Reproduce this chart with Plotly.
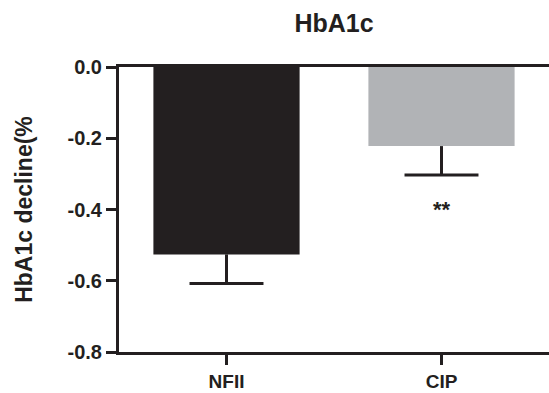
import plotly.graph_objects as go

categories = ["NFII", "CIP"]
means = [-0.526, -0.222]
errors_down = [0.082, 0.081]
bar_colors = ["#231f20", "#b1b3b6"]
y_tickvals = [0.0, -0.2, -0.4, -0.6, -0.8]
y_ticktext = ["0.0", "-0.2", "-0.4", "-0.6", "-0.8"]
sig_label = "**"
sig_category = "CIP"
sig_y = -0.399

INK = "#231f20"
FONT = "Liberation Sans, Arial, sans-serif"
CAP_HALF = 0.172  # cap half-width in category units

x_pos = list(range(len(categories)))

fig = go.Figure()
fig.add_trace(go.Bar(
    x=x_pos,
    y=means,
    width=0.68,
    marker=dict(color=bar_colors, line=dict(width=0)),
    error_y=dict(
        type="data",
        symmetric=False,
        array=[0] * len(means),
        arrayminus=errors_down,
        color=INK,
        thickness=3,
        width=0,
    ),
    showlegend=False,
    hoverinfo="skip",
))

# caps at the ends of the error bars
cap_y = [m - e for m, e in zip(means, errors_down)]
fig.add_trace(go.Scatter(
    x=x_pos,
    y=cap_y,
    mode="markers",
    marker=dict(size=1, color="rgba(0,0,0,0)"),
    error_x=dict(type="constant", value=CAP_HALF, color=INK, thickness=3, width=0),
    showlegend=False,
    hoverinfo="skip",
))

fig.add_annotation(
    x=categories.index(sig_category), y=sig_y, text=f"<b>{sig_label}</b>",
    showarrow=False, xref="x", yref="y",
    font=dict(family=FONT, size=22, color=INK),
    yanchor="middle", xanchor="center",
)

fig.update_layout(
    width=549, height=393,
    margin=dict(l=119, r=0, t=66.5, b=40.5, pad=0),
    paper_bgcolor="white", plot_bgcolor="white",
    font=dict(family=FONT, color=INK),
    hovermode=False,
    title=dict(
        text="<b>HbA1c</b>",
        x=0.5, xref="paper", xanchor="center",
        y=1 - 23 / 393, yref="container", yanchor="middle",
        font=dict(family=FONT, size=25, color=INK),
    ),
    xaxis=dict(
        range=[-0.5, 1.5], automargin=False,
        tickmode="array", tickvals=x_pos, ticktext=[f"<b>{c}</b>" for c in categories],
        showline=True, linecolor=INK, linewidth=3, mirror=True,
        ticks="outside", ticklen=10, tickwidth=3, tickcolor=INK,
        showgrid=False, zeroline=False,
        tickfont=dict(family=FONT, size=19, color=INK),
        ticklabelstandoff=0,
    ),
    yaxis=dict(
        range=[-0.8, 0], automargin=False,
        tickmode="array", tickvals=y_tickvals, ticktext=[f"<b>{t}</b>" for t in y_ticktext],
        showline=True, linecolor=INK, linewidth=3,
        ticks="outside", ticklen=10, tickwidth=3, tickcolor=INK,
        showgrid=False, zeroline=False,
        tickfont=dict(family=FONT, size=20, color=INK),
        title=dict(text="<b>HbA1c decline(%</b>", font=dict(family=FONT, size=23, color=INK), standoff=29),
    ),
)

fig.write_html(
    "out.html",
    config={"displayModeBar": False},
    post_script="document.body.style.margin='0';",
)
